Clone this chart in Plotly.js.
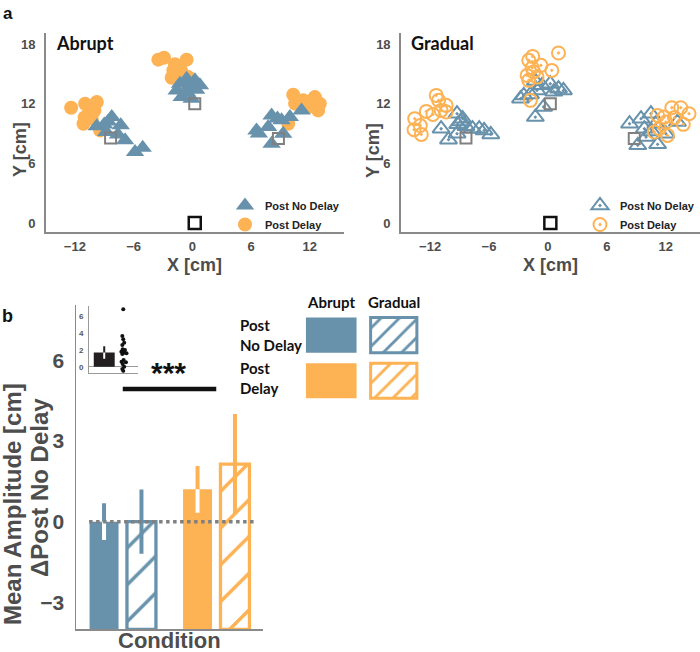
<!DOCTYPE html>
<html><head><meta charset="utf-8">
<script src="https://cdn.plot.ly/plotly-3.0.1.min.js"></script>
<style>html,body{margin:0;padding:0;background:#fff}#chart{width:700px;height:652px}</style>
</head><body><div id="chart"></div>
<script>
// ---------------- DATA ----------------
// Panel a: endpoints [cm]
const abruptNoDelayX = [-9.76,-8.23,-8.8,-7.31,-6.87,-7.6,-5.85,-5.07,-9.0,-8.6, -1.26,-0.58,0.27,0.78,-1.6,-0.58,-1.09,-0.07,0.4,-0.3, 6.56,8.1,7.76,9.12,9.97,11.16,8.1,9.29,8.7,6.8];
const abruptNoDelayY = [9.72,10.65,9.15,9.82,8.31,8.9,7.14,7.57,9.9,10.2, 14.0,14.5,14.34,13.84,13.33,13.17,12.66,12.5,13.4,13.8, 9.31,10.82,9.65,10.32,10.65,11.32,7.97,8.98,10.5,9.0];
const abruptDelayX = [-12.38,-10.95,-9.76,-10.6,-11.12,-10.27,-9.42,-10.0,-11.0, -3.47,-2.89,-1.77,-0.58,-1.09,-2.11,-0.41,-1.94,-1.3, 10.31,11.33,12.52,13.03,12.86,11.84,9.8,10.5,12.2];
const abruptDelayY = [11.59,11.99,12.16,10.99,9.98,10.49,9.31,11.3,10.6, 16.42,16.62,15.95,16.42,15.18,14.61,14.67,15.34,15.7, 12.9,12.33,12.66,12.0,11.32,11.66,9.98,12.0,12.3];
const gradualNoDelayX = [-10.88,-10.13,-9.26,-8.69,-9.19,-8.35,-7.68,-7.0,-6.5,-5.82,-9.26,-8.9, -2.79,-1.78,-1.28,-0.61,0.24,1.08,1.58,-1.28,-0.44,-2.46,-1.11,0.6, 8.32,9.49,10.5,9.83,10.0,9.16,11.18,12.02,13.2,11.0,10.6];
const gradualNoDelayY = [9.48,8.38,10.99,10.49,9.92,9.72,9.48,9.48,9.31,8.91,8.98,10.2, 12.5,12.93,14.27,13.84,14.0,13.5,13.33,10.65,11.66,12.83,13.33,13.2, 9.98,10.49,10.99,9.48,8.64,7.81,7.91,8.98,10.15,9.98,9.2];
const gradualDelayX = [-13.57,-13.64,-12.9,-12.39,-11.72,-11.38,-11.14,-10.37,-10.88,-10.37,-13.0, -1.95,-1.55,-0.71,0.4,1.08,-2.12,-1.95,-1.45,-1.78,-1.11,-1.6, 11.18,12.63,13.54,14.38,13.8,12.02,11.35,10.84,12.19,11.85,12.9];
const gradualDelayY = [10.49,9.38,8.91,11.22,10.92,12.83,12.33,11.83,11.32,11.16,9.8, 16.35,16.75,15.85,15.34,17.09,14.84,14.34,15.18,12.33,14.67,15.6, 10.82,11.59,11.59,10.99,9.92,10.15,9.48,9.15,8.81,10.65,10.6];
const targetX = [0.25,-8.35,8.8];
const targetY = [12,8.55,8.5];
const startX = [0.25];
const startY = [0];
const scatterTicks = [-12,-6,0,6,12];
const scatterYTicks = [0,6,12,18];

// Panel b: mean amplitude relative to Post No Delay [cm]
const conditions = ['Post<br>No Delay','Post<br>Delay'];
const groups = ['Abrupt','Gradual'];
const abruptMeans = [0.0, 1.2];
const abruptErrs = [0.68, 0.87];
const gradualMeans = [0.0, 2.14];
const gradualErrs = [1.19, 1.86];
const barYTicks = [-3,0,3,6];
const sigLabel = '***';
const sigLevel = 4.93;

// Inset
const insetMean = [1.7];
const insetErr = [0.74];
const insetDots = [6.88,3.68,3.28,2.88,2.6,2.08,2.0,1.8,1.68,1.6,1.52,0.8,0.6,0.52,0.32,0.0,-0.28,-0.52];
const insetJitter = [0,-0.05,0,0.05,-0.05,-0.03,0.09,-0.1,0.05,0.17,-0.05,0.02,-0.09,0.14,-0.03,0.05,-0.05,0];
const insetTicks = [0,2,4,6];

// ---------------- STYLE ----------------
const W=700,H=652;
const px=x=>x/W, py=y=>1-y/H;
const BLUE='#6892ac', ORANGE='#fdb254', GRAYAX='#8a8a8a', TICK='#4d4d4d';
const ARIAL='Liberation Sans, Arial, sans-serif';
const CAL='Lato, Liberation Sans, sans-serif';
const condColors=[BLUE, ORANGE];

const traces=[];
function scatterAxes(xa,ya){return {xaxis:xa,yaxis:ya};}
// Abrupt panel
traces.push(Object.assign({type:'scatter',mode:'markers',x:abruptDelayX,y:abruptDelayY,name:'Post Delay',legendrank:2,
  marker:{symbol:'circle',size:14,color:ORANGE}},scatterAxes('x','y')));
traces.push(Object.assign({type:'scatter',mode:'markers',x:abruptNoDelayX,y:abruptNoDelayY,name:'Post No Delay',legendrank:1,
  marker:{symbol:'triangle-up',size:16,color:BLUE}},scatterAxes('x','y')));
// Gradual panel
traces.push(Object.assign({type:'scatter',mode:'markers',x:gradualNoDelayX,y:gradualNoDelayY,name:'Post No Delay',legend:'legend2',legendrank:1,
  marker:{symbol:'triangle-up-open-dot',size:15,color:BLUE,line:{width:2,color:BLUE}}},scatterAxes('x2','y2')));
traces.push(Object.assign({type:'scatter',mode:'markers',x:gradualDelayX,y:gradualDelayY,name:'Post Delay',legend:'legend2',legendrank:2,
  marker:{symbol:'circle-open-dot',size:13,color:ORANGE,line:{width:2,color:ORANGE}}},scatterAxes('x2','y2')));
// targets and start
[['x','y'],['x2','y2']].forEach(([xa,ya])=>{
  traces.push({type:'scatter',mode:'markers',x:targetX,y:targetY,xaxis:xa,yaxis:ya,showlegend:false,
    marker:{symbol:'square-open',size:11,color:'#808080',line:{width:2,color:'#808080'}}});
  traces.push({type:'scatter',mode:'markers',x:startX,y:startY,xaxis:xa,yaxis:ya,showlegend:false,
    marker:{symbol:'square-open',size:12,color:'#111',line:{width:2.5,color:'#111'}}});
});

// Panel b bars
const BASE=-4; // bars rise from the bottom of the axis
const SLOT=0.2, BW=0.31;
const allMeans=[abruptMeans,gradualMeans], allErrs=[abruptErrs,gradualErrs];
groups.forEach((g,gi)=>{
  conditions.forEach((c,ci)=>{
    const col=condColors[ci];
    const m=allMeans[gi][ci], e=allErrs[gi][ci];
    const t={type:'bar',x:[ci],y:[m-BASE],base:[BASE],offset:(gi===0?-SLOT:SLOT)-BW/2,width:BW,
      xaxis:'x3',yaxis:'y3',showlegend:false,hoverinfo:'skip',
      error_y:{type:'data',array:[e],color:col,thickness:4,width:0}};
    if(gi===0){ t.marker={color:col,line:{width:0}}; }
    else { t.marker={color:'white',line:{color:col,width:3.3},pattern:{shape:'/',fgcolor:col,bgcolor:'white',size:26,solidity:0.13}}; }
    traces.push(t);
    if(gi===0){
      traces.push({type:'bar',x:[ci],y:[m-BASE],base:[BASE],offset:-SLOT-BW/2,width:BW,xaxis:'x3',yaxis:'y3',showlegend:false,hoverinfo:'skip',
        marker:{color:'rgba(0,0,0,0)',line:{width:0}},
        error_y:{type:'data',symmetric:false,array:[0],arrayminus:[e],color:'white',thickness:4,width:0}});
    }
  });
});

// Inset
traces.push({type:'bar',x:[0],y:insetMean,width:1.1,xaxis:'x4',yaxis:'y4',showlegend:false,hoverinfo:'skip',
  marker:{color:'#231f20',line:{width:0}},error_y:{type:'data',array:insetErr,color:'#231f20',thickness:2,width:0}});
traces.push({type:'bar',x:[0],y:insetMean,width:1.1,xaxis:'x4',yaxis:'y4',showlegend:false,hoverinfo:'skip',
  marker:{color:'rgba(0,0,0,0)',line:{width:0}},error_y:{type:'data',symmetric:false,array:[0],arrayminus:insetErr,color:'white',thickness:2,width:0}});
traces.push({type:'scatter',mode:'markers',x:insetJitter.map(j=>1+j),y:insetDots,xaxis:'x4',yaxis:'y4',showlegend:false,hoverinfo:'skip',
  marker:{size:4,color:'#111'}});

// Bar legend grid
const LEGH=0.77;
groups.forEach((g,gi)=>{
  conditions.forEach((c,ci)=>{
    const col=condColors[ci];
    const t={type:'bar',x:[gi],y:[LEGH],base:[1-ci],width:gi===0?0.81:0.74,xaxis:'x5',yaxis:'y5',showlegend:false,hoverinfo:'skip'};
    if(gi===0) t.marker={color:col,line:{width:0}};
    else t.marker={color:'white',line:{color:col,width:3},pattern:{shape:'/',fgcolor:col,bgcolor:'white',size:13,solidity:0.22}};
    traces.push(t);
  });
});

function tf(size,color){return {family:ARIAL,size:size,color:color||TICK,weight:700};}
const axBase={showgrid:false,zeroline:false,showline:true,linecolor:GRAYAX,linewidth:1.5,ticks:'',fixedrange:true};

const layout={
  width:W,height:H,margin:{l:0,r:0,t:0,b:0},paper_bgcolor:'#fff',plot_bgcolor:'rgba(0,0,0,0)',
  barmode:'overlay',showlegend:true,
  xaxis:Object.assign({},axBase,{domain:[px(45.5),px(344)],range:[-15,15.5],tickvals:scatterTicks,tickfont:tf(13),ticklabelstandoff:2,anchor:'y'}),
  yaxis:Object.assign({},axBase,{domain:[py(232),py(33)],range:[-0.9,19.1],tickvals:scatterYTicks,tickfont:tf(13),ticklabelstandoff:6,anchor:'x'}),
  xaxis2:Object.assign({},axBase,{domain:[px(400.7),px(700)],range:[-15,15.5],tickvals:scatterTicks,tickfont:tf(13),ticklabelstandoff:2,anchor:'y2'}),
  yaxis2:Object.assign({},axBase,{domain:[py(232),py(33)],range:[-0.9,19.1],tickvals:scatterYTicks,tickfont:tf(13),ticklabelstandoff:6,anchor:'x2'}),
  xaxis3:Object.assign({},axBase,{domain:[px(76),px(263)],range:[-0.5,1.5],showticklabels:false,anchor:'y3'}),
  yaxis3:Object.assign({},axBase,{domain:[py(629.3),py(305)],range:[-4,8.05],tickvals:barYTicks,tickfont:tf(21),ticklabelstandoff:6,anchor:'x3'}),
  xaxis4:Object.assign({},axBase,{domain:[px(89),px(138.3)],range:[-0.8,1.79],showticklabels:false,linewidth:1,linecolor:'#9a9a9a',anchor:'y4'}),
  yaxis4:Object.assign({},axBase,{domain:[py(372.7),py(306)],range:[-0.72,7.27],tickvals:insetTicks,tickfont:tf(8,'#555'),ticklabelstandoff:3,linewidth:1,linecolor:'#9a9a9a',
    zeroline:true,zerolinecolor:'#9a9a9a',zerolinewidth:1,anchor:'x4'}),
  xaxis5:{domain:[px(300),px(425)],range:[-0.5,1.5],visible:false,fixedrange:true,anchor:'y5'},
  yaxis5:{domain:[py(405.1),py(307.1)],range:[-0.15,2.0],visible:false,fixedrange:true,anchor:'x5'},
  legend:{x:px(225),y:py(191),xanchor:'left',yanchor:'top',bgcolor:'rgba(0,0,0,0)',font:{family:ARIAL,size:11,color:'#222',weight:700},tracegroupgap:0,itemclick:false},
  legend2:{x:px(580),y:py(191),xanchor:'left',yanchor:'top',bgcolor:'rgba(0,0,0,0)',font:{family:ARIAL,size:11,color:'#222',weight:700},tracegroupgap:0,itemclick:false},
  shapes:[
    {type:'line',xref:'x3',yref:'y3',x0:-0.36,x1:1.41,y0:0,y1:0,layer:'above',line:{color:'#808080',width:3.5,dash:'dot'}},
    {type:'line',xref:'x3',yref:'y3',x0:0,x1:1,y0:sigLevel,y1:sigLevel,layer:'above',line:{color:'#111',width:4.5}}
  ],
  annotations:[
    {text:'a',xref:'paper',yref:'paper',x:px(1),y:py(14),xanchor:'left',yanchor:'middle',showarrow:false,font:{family:ARIAL,size:17,color:'#111',weight:700}},
    {text:'b',xref:'paper',yref:'paper',x:px(0),y:py(316),xanchor:'left',yanchor:'middle',showarrow:false,font:{family:ARIAL,size:18,color:'#111',weight:700}},
    {text:'Abrupt',xref:'paper',yref:'paper',x:px(54),y:py(43),xanchor:'left',yanchor:'middle',showarrow:false,font:{family:CAL,size:18,color:'#111',weight:700}},
    {text:'Gradual',xref:'paper',yref:'paper',x:px(409),y:py(43),xanchor:'left',yanchor:'middle',showarrow:false,font:{family:CAL,size:18,color:'#111',weight:700}},
    {text:'X [cm]',xref:'paper',yref:'paper',x:px(194),y:py(265),xanchor:'center',yanchor:'middle',showarrow:false,font:tf(18)},
    {text:'X [cm]',xref:'paper',yref:'paper',x:px(550),y:py(265),xanchor:'center',yanchor:'middle',showarrow:false,font:tf(18)},
    {text:'Y [cm]',xref:'paper',yref:'paper',x:px(20),y:py(150),xanchor:'center',yanchor:'middle',textangle:-90,showarrow:false,font:tf(18)},
    {text:'Y [cm]',xref:'paper',yref:'paper',x:px(373),y:py(150),xanchor:'center',yanchor:'middle',textangle:-90,showarrow:false,font:tf(18)},
    {text:'Condition',xref:'paper',yref:'paper',x:px(169),y:py(640),xanchor:'center',yanchor:'middle',showarrow:false,font:tf(22)},
    {text:'Mean Amplitude [cm]',xref:'paper',yref:'paper',x:px(12),y:py(504),xanchor:'center',yanchor:'middle',textangle:-90,showarrow:false,font:tf(24)},
    {text:'\u0394Post No Delay',xref:'paper',yref:'paper',x:px(39),y:py(488),xanchor:'center',yanchor:'middle',textangle:-90,showarrow:false,font:tf(24)},
    {text:sigLabel,xref:'x3',yref:'y3',x:0.49,y:5.56,xanchor:'center',yanchor:'middle',showarrow:false,font:{family:ARIAL,size:30,color:'#111',weight:700}},
    {text:groups[0],xref:'paper',yref:'paper',x:px(331),y:py(302),xanchor:'center',yanchor:'middle',showarrow:false,font:{family:CAL,size:15,color:'#111',weight:700}},
    {text:groups[1],xref:'paper',yref:'paper',x:px(394),y:py(302),xanchor:'center',yanchor:'middle',showarrow:false,font:{family:CAL,size:15,color:'#111',weight:700}},
    {text:conditions[0],xref:'paper',yref:'paper',x:px(238),y:py(335),xanchor:'left',yanchor:'middle',align:'left',showarrow:false,font:{family:CAL,size:15,color:'#111',weight:700}},
    {text:conditions[1],xref:'paper',yref:'paper',x:px(238),y:py(378),xanchor:'left',yanchor:'middle',align:'left',showarrow:false,font:{family:CAL,size:15,color:'#111',weight:700}}
  ]
};
Plotly.newPlot('chart',traces,layout,{staticPlot:true,displayModeBar:false});
</script>
</body></html>
